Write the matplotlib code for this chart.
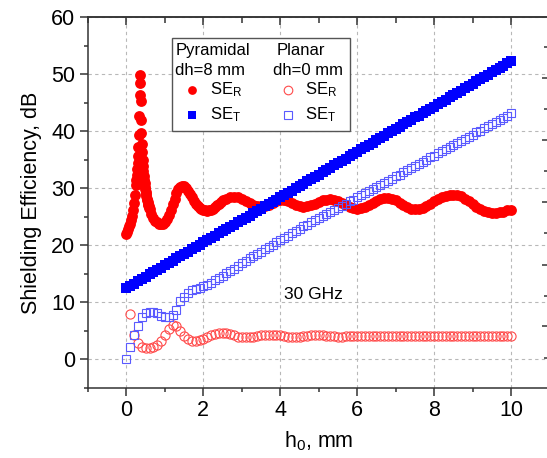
import numpy as np
import matplotlib as mpl
mpl.use('Agg')
import matplotlib.pyplot as plt
from matplotlib.ticker import MultipleLocator, NullFormatter
from matplotlib.patches import Rectangle

mpl.rcParams.update({
    'font.family': ['Liberation Sans', 'DejaVu Sans'],
    'mathtext.fontset': 'custom',
    'mathtext.rm': 'Liberation Sans',
    'mathtext.it': 'Liberation Sans:italic',
    'axes.linewidth': 1.1,
    'axes.edgecolor': '#333333',
})

FS = 15.5

# --- data -----------------------------------------------------------------
# pyramidal, dh = 8 mm
x_pyr_r = np.concatenate([np.linspace(0, 0.25, 11), np.linspace(0.26, 0.60, 35),
                          np.linspace(0.65, 2.5, 38), np.linspace(2.6, 10, 75)])
se_r_pyr = [22.0, 22.4, 22.8, 23.3, 23.8, 24.4, 25.2, 26.2, 27.4, 28.9, 30.6,
            31.4, 32.3, 33.3, 34.4, 35.6, 37.2, 39.4, 42.6, 46.4, 49.8,
            48.4, 45.2, 42.0, 39.6, 37.8, 36.3, 35.0, 33.9, 33.0, 32.2,
            31.5, 30.9, 30.3, 29.8, 29.4, 29.0, 28.6, 28.2, 27.9, 27.6,
            27.3, 27.0, 26.8, 26.5, 26.3,
            25.4, 24.8, 24.3, 24.0, 23.8, 23.7,
            23.8, 24.1, 24.6, 25.3, 26.2, 27.2, 28.2, 29.1, 29.8, 30.2,
            30.4, 30.4, 30.1, 29.6, 29.0, 28.4, 27.8, 27.3, 26.9, 26.6,
            26.3, 26.2, 26.1, 26.0, 26.1, 26.2, 26.4, 26.7, 27.0, 27.3,
            27.6, 27.9,
            28.2, 28.4, 28.5, 28.4, 28.2, 27.8, 27.4, 27.1, 26.9, 26.8,
            26.9, 27.1, 27.4, 27.7, 27.9, 27.9, 27.7, 27.4, 27.0, 26.8,
            26.7, 26.8, 27.0, 27.3, 27.6, 27.9, 28.0, 28.1, 28.0, 27.8,
            27.4, 27.0, 26.7, 26.5, 26.4, 26.5, 26.7, 27.0, 27.4, 27.8,
            28.1, 28.3, 28.3, 28.2, 27.9, 27.5, 27.1, 26.7, 26.4, 26.3,
            26.3, 26.5, 26.8, 27.2, 27.7, 28.1, 28.4, 28.7, 28.8, 28.9,
            28.8, 28.6, 28.2, 27.7, 27.2, 26.7, 26.3, 26.0, 25.8, 25.7,
            25.7, 25.8, 25.9, 26.1, 26.2]

x_step = np.linspace(0, 10, 101)
se_t_pyr = [12.5, 12.9, 13.3, 13.7, 14.1, 14.5, 14.9, 15.3, 15.7, 16.1,
            16.5, 16.9, 17.3, 17.7, 18.1, 18.5, 18.9, 19.3, 19.7, 20.1,
            20.5, 20.9, 21.3, 21.7, 22.1, 22.5, 22.8, 23.2, 23.6, 24.0,
            24.4, 24.8, 25.2, 25.6, 26.0, 26.4, 26.8, 27.2, 27.6, 28.0,
            28.4, 28.8, 29.2, 29.6, 30.0, 30.4, 30.8, 31.2, 31.6, 32.0,
            32.4, 32.8, 33.2, 33.6, 34.0, 34.4, 34.8, 35.2, 35.6, 36.0,
            36.4, 36.8, 37.2, 37.6, 38.0, 38.4, 38.8, 39.2, 39.6, 40.0,
            40.4, 40.8, 41.2, 41.6, 42.0, 42.4, 42.7, 43.1, 43.5, 43.9,
            44.3, 44.7, 45.1, 45.5, 45.9, 46.3, 46.7, 47.1, 47.5, 47.9,
            48.3, 48.7, 49.1, 49.5, 49.9, 50.3, 50.7, 51.1, 51.5, 51.9,
            52.3]

# planar, dh = 0 mm
x_pla_r = np.linspace(0.1, 10, 100)
se_r_pla = [7.9, 4.3, 2.8, 2.2, 2.0, 2.0, 2.1, 2.5, 3.2, 4.2,
            5.3, 6.1, 5.9, 5.0, 4.1, 3.6, 3.3, 3.3, 3.4, 3.6,
            3.9, 4.2, 4.5, 4.7, 4.7, 4.6, 4.4, 4.2, 4.0, 3.9,
            3.9, 3.9, 4.0, 4.1, 4.2, 4.3, 4.3, 4.3, 4.2, 4.2,
            4.1, 4.0, 4.0, 4.0, 4.0, 4.1, 4.1, 4.2, 4.2, 4.2,
            4.2, 4.1, 4.1, 4.1, 4.0, 4.0, 4.1, 4.1, 4.1, 4.1,
            4.1, 4.1, 4.1, 4.1, 4.1, 4.1, 4.1, 4.1, 4.1, 4.1,
            4.1, 4.1, 4.1, 4.1, 4.1, 4.1, 4.1, 4.1, 4.1, 4.1,
            4.1, 4.1, 4.1, 4.1, 4.1, 4.1, 4.1, 4.1, 4.1, 4.1,
            4.1, 4.1, 4.1, 4.1, 4.1, 4.1, 4.1, 4.1, 4.1, 4.1]
se_t_pla = [0.0, 2.2, 4.2, 5.9, 7.4, 8.1, 8.4, 8.4, 8.1, 7.7,
            7.4, 7.4, 7.8, 8.7, 10.2, 11.0, 11.6, 12.1, 12.4, 12.6,
            12.8, 13.0, 13.4, 13.9, 14.3, 14.7, 15.1, 15.5, 15.9, 16.4,
            16.9, 17.3, 17.7, 18.1, 18.5, 18.9, 19.3, 19.7, 20.1, 20.5,
            20.9, 21.3, 21.7, 22.1, 22.5, 22.9, 23.3, 23.6, 24.0, 24.4,
            24.7, 25.1, 25.5, 25.8, 26.2, 26.6, 26.9, 27.3, 27.7, 28.0,
            28.4, 28.8, 29.1, 29.5, 29.9, 30.2, 30.6, 31.0, 31.3, 31.7,
            32.1, 32.4, 32.8, 33.2, 33.5, 33.9, 34.3, 34.6, 35.0, 35.4,
            35.7, 36.1, 36.5, 36.8, 37.2, 37.6, 37.9, 38.3, 38.7, 39.0,
            39.4, 39.8, 40.1, 40.5, 40.9, 41.2, 41.6, 42.0, 42.3, 42.7,
            43.1]

RED, BLUE = '#ff0000', '#0000ff'
RED_O, BLUE_O = '#ff4a4a', '#5a5aff'

fig = plt.figure(figsize=(5.47, 4.58), dpi=100)
ax = fig.add_axes([88 / 547, 70 / 458, 461.5 / 547, 371 / 458])

ax.plot(x_pyr_r, se_r_pyr, 'o', ms=7.8, color=RED, mec=RED, mew=0, zorder=3)
ax.plot(x_step, se_t_pyr, 's', ms=7.2, color=BLUE, mec=BLUE, mew=0, zorder=3)
ax.plot(x_pla_r, se_r_pla, 'o', ms=6.6, mfc='none', mec=RED_O, mew=0.8, zorder=4)
ax.plot(x_step, se_t_pla, 's', ms=5.2, mfc='none', mec=BLUE_O, mew=0.8, zorder=4)

ax.set_xlim(-1, 11)
ax.set_ylim(-5, 60)
ax.xaxis.set_major_locator(MultipleLocator(2))
ax.xaxis.set_minor_locator(MultipleLocator(1))
ax.yaxis.set_major_locator(MultipleLocator(10))
ax.yaxis.set_minor_locator(MultipleLocator(5))
ax.tick_params(which='major', direction='out', length=6, width=1.1,
               labelsize=FS, pad=3, color='#333333')
ax.tick_params(which='minor', direction='out', length=3, width=1.1, color='#333333')
ax.grid(True, which='major', ls=(0, (3, 3)), color='#b8b8b8', lw=0.8, zorder=0)
ax.spines['right'].set_visible(False)

ax.set_xlabel('h$_0$, mm', fontsize=FS, labelpad=6)
ax.set_ylabel('Shielding Efficiency, dB', fontsize=FS, labelpad=7)

# inward ticks on the top edge
axt = ax.twiny()
axt.set_xlim(ax.get_xlim())
axt.xaxis.set_major_locator(MultipleLocator(2))
axt.xaxis.set_minor_locator(MultipleLocator(1))
axt.xaxis.set_major_formatter(NullFormatter())
axt.tick_params(which='major', direction='in', length=6, width=1.1, color='#333333')
axt.tick_params(which='minor', direction='in', length=4, width=1.1, color='#333333')
for s in ['left', 'right', 'bottom']:
    axt.spines[s].set_visible(False)

# stray inward ticks on the (clipped) right edge
axr = ax.twinx()
axr.set_ylim(ax.get_ylim())
axr.set_yticks([5.8, 16.6, 27.6, 38.5, 49.4])
axr.set_yticks([0.3, 11.2, 22.1, 33.1, 43.9, 54.8], minor=True)
axr.yaxis.set_major_formatter(NullFormatter())
axr.tick_params(which='major', direction='in', length=6, width=1.1, color='#333333')
axr.tick_params(which='minor', direction='in', length=4, width=1.1, color='#333333')
for s in ['left', 'top', 'bottom', 'right']:
    axr.spines[s].set_visible(False)

# legend block
LF = 12
ax.add_patch(Rectangle((0.182, 0.693), 0.386, 0.25, transform=ax.transAxes,
                       fill=True, fc='white', ec='#555555', lw=1.0, zorder=6))
ax.text(0.189, 0.911, 'Pyramidal', transform=ax.transAxes, fontsize=LF,
        va='center', ha='left', zorder=7)
ax.text(0.189, 0.857, 'dh=8 mm', transform=ax.transAxes, fontsize=LF,
        va='center', ha='left', zorder=7)
ax.text(0.4095, 0.911, 'Planar', transform=ax.transAxes, fontsize=LF,
        va='center', ha='left', zorder=7)
ax.text(0.401, 0.857, 'dh=0 mm', transform=ax.transAxes, fontsize=LF,
        va='center', ha='left', zorder=7)
ax.plot([0.2254], [0.803], 'o', ms=6.3, color=RED, mew=0, transform=ax.transAxes, zorder=7)
ax.plot([0.2254], [0.736], 's', ms=6.0, color=BLUE, mew=0, transform=ax.transAxes, zorder=7)
ax.plot([0.433], [0.803], 'o', ms=6.2, mfc='none', mec=RED_O, mew=0.8,
        transform=ax.transAxes, zorder=7)
ax.plot([0.433], [0.736], 's', ms=5.2, mfc='none', mec=BLUE_O, mew=0.8,
        transform=ax.transAxes, zorder=7)
for xx in (0.264, 0.470):
    ax.text(xx, 0.803, 'SE$_\\mathrm{R}$', transform=ax.transAxes, fontsize=LF,
            va='center', ha='left', zorder=7)
    ax.text(xx, 0.736, 'SE$_\\mathrm{T}$', transform=ax.transAxes, fontsize=LF,
            va='center', ha='left', zorder=7)

ax.text(4.1, 11.4, '30 GHz', fontsize=12.5, va='center', ha='left')

fig.savefig('out.png', dpi=100)
